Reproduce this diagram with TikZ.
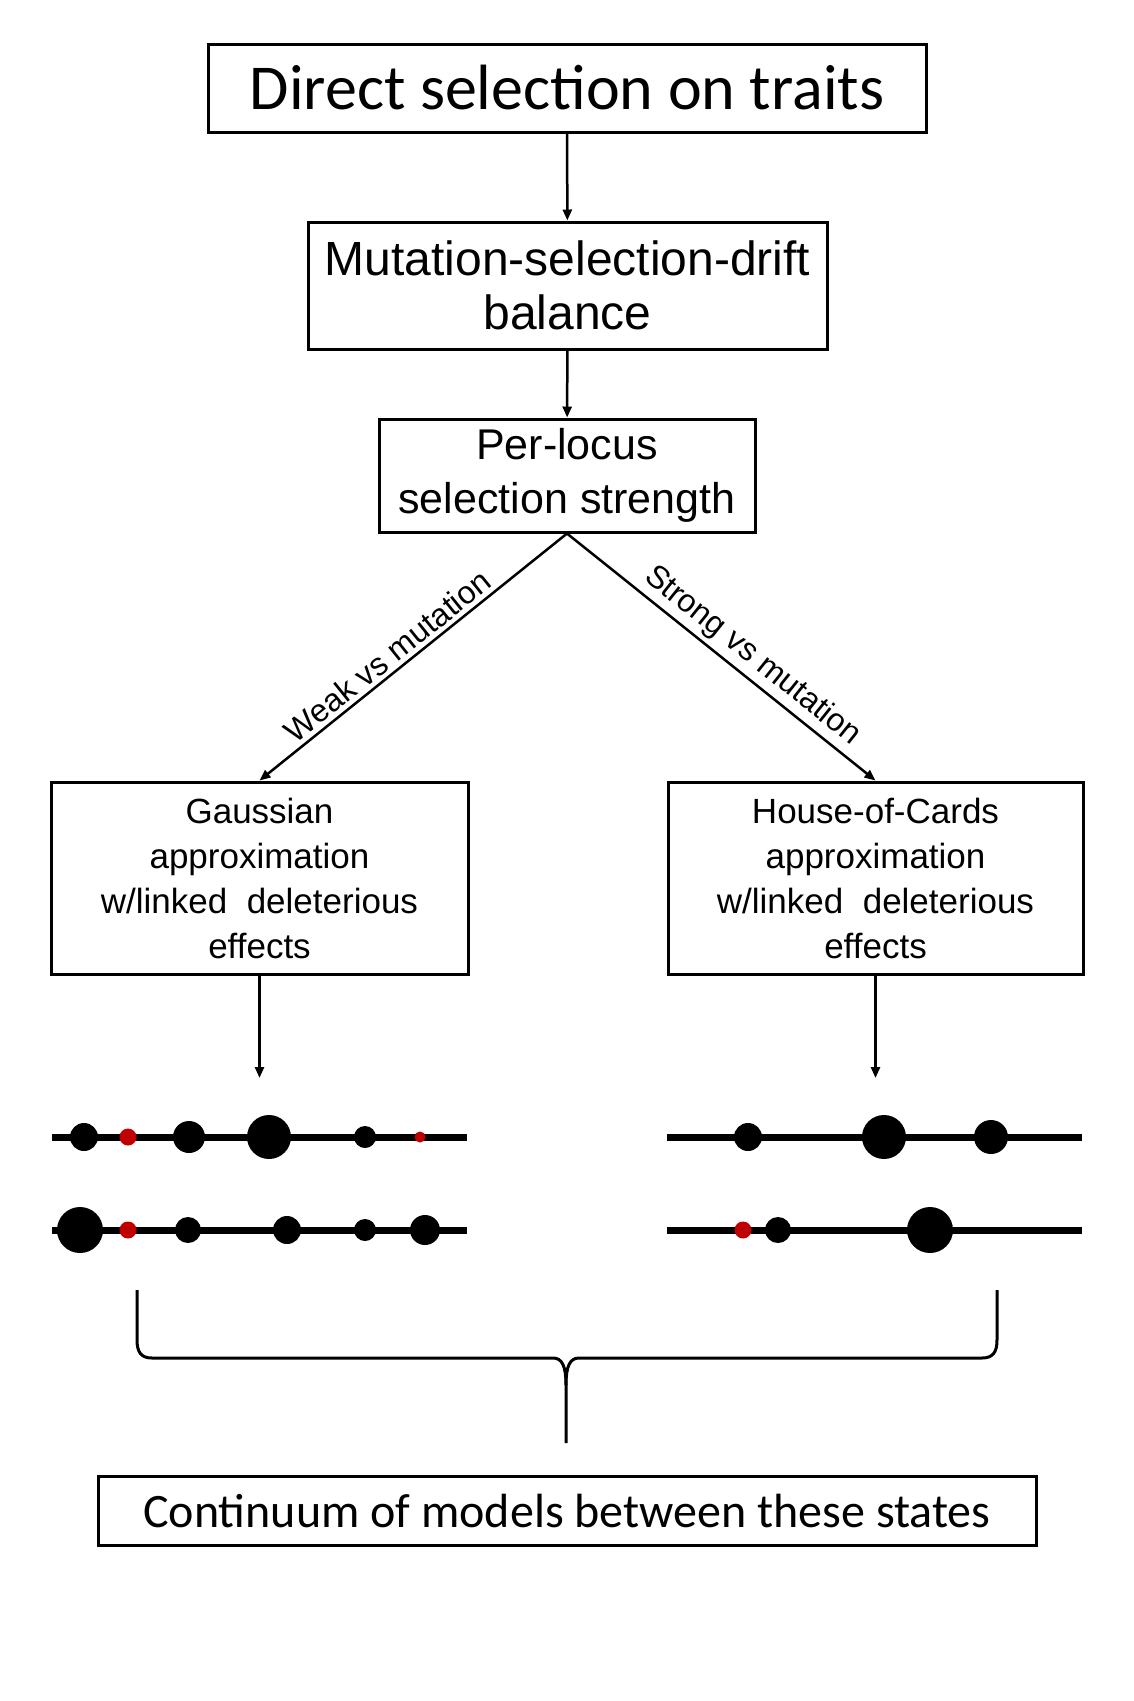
\documentclass[tikz,border=0pt]{standalone}
\usepackage{fontspec}
\usepackage{xcolor}
\usepackage{tikz}
\usetikzlibrary{arrows.meta}
\newfontfamily\arialfont{Liberation Sans}
\newfontfamily\calibrifont{Carlito}
\definecolor{dotred}{RGB}{192,0,0}

\begin{document}
\begin{tikzpicture}[x=1pt, y=-1pt,
  box/.style={draw, rectangle, line width=3pt, inner sep=0pt, align=center},
  flow/.style={-{Triangle[length=11pt,width=9pt]}, line width=2.5pt},
  locus/.style={line width=7pt},
  branch/.style={font=\arialfont\fontsize{32}{36}\selectfont, sloped, above, inner sep=4pt}]
\useasboundingbox (0,0) rectangle (1134,1701);
% Define nodes
\node[box, minimum width=718pt, minimum height=88pt, font=\calibrifont\fontsize{64}{70}\selectfont] (direct) at (567,88) {Direct selection on traits};
\node[box, minimum width=519pt, minimum height=127pt, font=\arialfont\fontsize{48}{54}\selectfont] (balance) at (567.5,285.5) {Mutation-selection-drift\\balance};
\node[box, minimum width=376pt, minimum height=113pt, font=\arialfont\fontsize{43}{54}\selectfont] (perlocus) at (567,475.5) {Per-locus\\selection strength};
\node[box, minimum width=417pt, minimum height=192pt, font=\arialfont\fontsize{35}{45}\selectfont] (gauss) at (259.5,878) {Gaussian\\approximation\\w/linked~ deleterious\\effects};
\node[box, minimum width=415pt, minimum height=192pt, font=\arialfont\fontsize{35}{45}\selectfont] (hoc) at (875.5,878) {House-of-Cards\\approximation\\w/linked~ deleterious\\effects};
\node[box, minimum width=938pt, minimum height=69pt, font=\calibrifont\fontsize{48}{54}\selectfont] (continuum) at (567,1511) {Continuum of models between these states};
\coordinate (gaussend) at (259.5,1078);
\coordinate (hocend) at (875.5,1078);

% Draw arrows
\draw[flow] (direct) -- (balance);
\draw[flow] (balance) -- (perlocus);
\draw[flow] (perlocus.south) -- node[branch, pos=0.55] {Weak vs mutation} (gauss.north);
\draw[flow] (perlocus.south) -- node[branch, pos=0.56] {Strong vs mutation} (hoc.north);
\draw[flow] (gauss) -- (gaussend);
\draw[flow] (hoc) -- (hocend);

% Loci with allele effects
\draw[locus] (52,1137) -- (467,1137);
\draw[locus] (52,1230) -- (467,1230);
\draw[locus] (667,1137) -- (1082,1137);
\draw[locus] (667,1230) -- (1082,1230);
\foreach \x/\r in {84/14, 189/16, 269/22, 365/11}
  \fill (\x,1137) circle (\r pt);
\foreach \x/\r in {80/23, 188/13, 287/14, 365/11, 425/15}
  \fill (\x,1230) circle (\r pt);
\foreach \x/\r in {748/14, 884/22, 991/17}
  \fill (\x,1137) circle (\r pt);
\foreach \x/\r in {778/13, 930/23}
  \fill (\x,1230) circle (\r pt);
\foreach \x/\y/\r in {128/1137/8.5, 420/1137/5.5, 128/1230/8.5, 743/1230/8.5}
  \fill[dotred] (\x,\y) circle (\r pt);

% Brace
\draw[line width=3pt] (137,1290) -- (137,1340) .. controls (137,1352) and (141,1358) .. (152,1358) -- (553,1358) .. controls (562,1358) and (566,1366) .. (566,1385) -- (566,1443);
\draw[line width=3pt] (997,1290) -- (997,1340) .. controls (997,1352) and (993,1358) .. (982,1358) -- (579,1358) .. controls (570,1358) and (566,1366) .. (566,1385);
\end{tikzpicture}
\end{document}
